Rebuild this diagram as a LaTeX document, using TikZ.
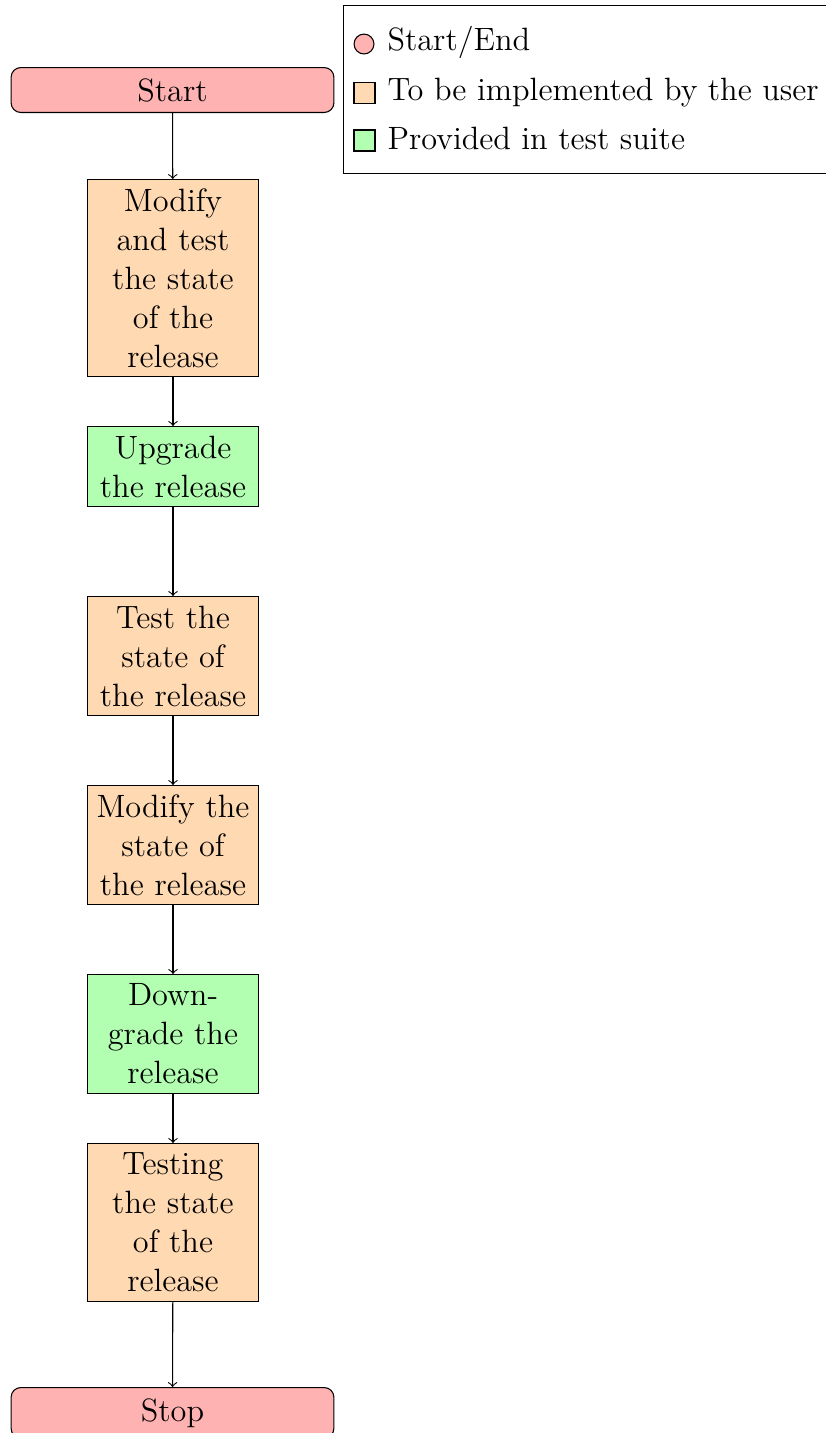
\documentclass[tikz,border=0pt]{standalone}
\begin{document}
\begin{tikzpicture}[x=0.37175pt,y=-0.37175pt,
  font=\fontsize{12}{14.5}\selectfont,
  term/.style={draw, fill=red!30, rounded corners=3.6pt, minimum width=120pt, anchor=north, inner sep=4pt},
  proc/.style={draw, text width=58pt, inner xsep=2.95pt, inner ysep=3.4pt, align=center, anchor=north},
  userbox/.style={proc, fill=orange!30},
  suitebox/.style={proc, fill=green!30},
  flow/.style={->},
  legtext/.style={anchor=base west, inner sep=0pt}]
\useasboundingbox (0,0) rectangle (825,1433);
% flow
\node[term] (start) at (172.5,67) {Start};
\node[userbox] (b1) at (173,179) {Modify\\and test\\the state\\of the\\release};
\node[suitebox] (b2) at (173,426) {Upgrade\\the release};
\node[userbox] (b3) at (173,596) {Test the\\state of\\the release};
\node[userbox] (b4) at (173,785) {Modify the\\state of\\the release};
\node[suitebox] (b5) at (173,974) {Down-\\grade the\\release};
\node[userbox] (b6) at (173,1143) {Testing\\the state\\of the\\release};
\node[term] (stop) at (172.5,1387) {Stop};
\draw[flow] (start) -- (b1);
\draw[flow] (b1) -- (b2);
\draw[flow] (b2) -- (b3);
\draw[flow] (b3) -- (b4);
\draw[flow] (b4) -- (b5);
\draw[flow] (b5) -- (b6);
\draw[flow] (b6) -- (stop);
% legend
\node[draw, anchor=north west, minimum width=207pt, minimum height=62.6pt, inner sep=0pt] (legend) at (343,4.7) {};
\node[circle, draw, fill=red!30, minimum size=7.4pt, inner sep=0pt] (m1) at (364,44) {};
\node[draw, fill=orange!30, minimum size=7.8pt, inner sep=0pt] (m2) at (364.5,93.3) {};
\node[draw, fill=green!30, minimum size=7.8pt, inner sep=0pt] (m3) at (364.5,140.5) {};
\node[legtext] (l1) at (387,50) {Start/End};
\node[legtext] (l2) at (387,100.5) {To be implemented by the user};
\node[legtext] (l3) at (387,149) {Provided in test suite};
\end{tikzpicture}
\end{document}
